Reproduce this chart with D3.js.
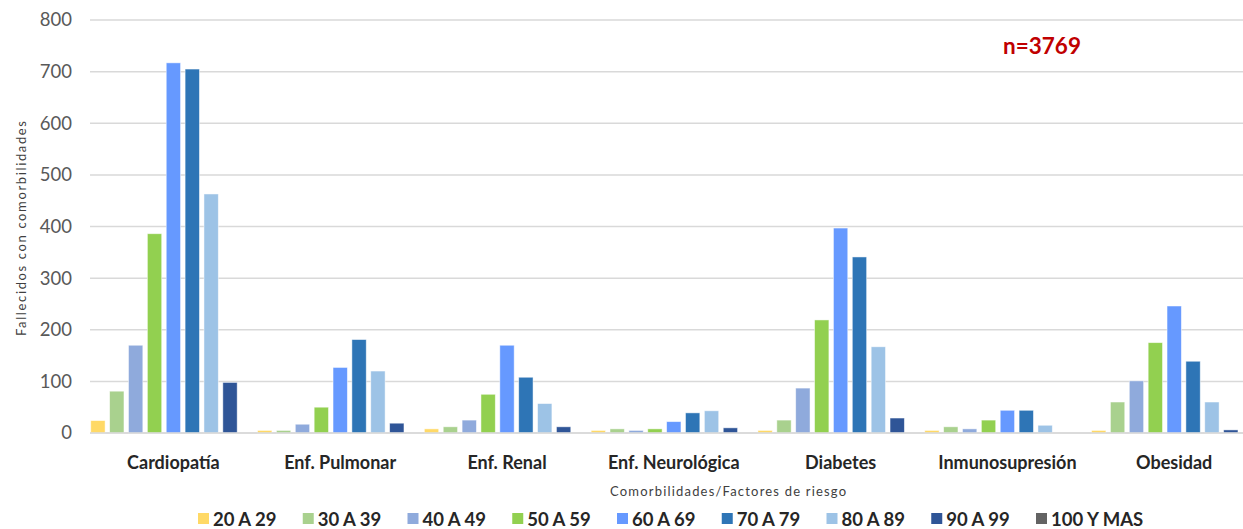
<!DOCTYPE html>
<html>
<head>
<meta charset="utf-8">
<script src="https://cdn.jsdelivr.net/npm/d3@7"></script>
<style>
    body { margin: 0; background: #fff; }
    svg { display: block; font-family: Lato, 'Open Sans', sans-serif; }
</style>
</head>
<body>
<svg id="chart"></svg>
<script>
const categories = ['Cardiopatía', 'Enf. Pulmonar', 'Enf. Renal', 'Enf. Neurológica', 'Diabetes', 'Inmunosupresión', 'Obesidad'];
const ageGroups = ['20 A 29', '30 A 39', '40 A 49', '50 A 59', '60 A 69', '70 A 79', '80 A 89', '90 A 99', '100 Y MAS'];
const groupColors = ['#FFD966', '#A9D18E', '#8FAADC', '#92D050', '#6699FF', '#2E75B6', '#9DC3E6', '#2F5597', '#636363'];

// one row per category, one value per age group
const values = [
    [24, 81, 170, 386, 717, 705, 463, 98, 0],
    [5, 5, 17, 50, 127, 181, 120, 19, 0],
    [8, 12, 25, 75, 170, 108, 57, 12, 0],
    [5, 8, 5, 8, 22, 39, 43, 10, 0],
    [5, 25, 87, 219, 397, 341, 167, 29, 0],
    [5, 12, 8, 25, 44, 44, 15, 0, 0],
    [5, 60, 101, 175, 246, 139, 60, 6, 0],
];
const yTicks = [0, 100, 200, 300, 400, 500, 600, 700, 800];

const width = 1243, height = 529;
const margin = { top: 20, left: 90, bottom: 96 };
const plotBottom = height - margin.bottom;

const svg = d3.select('#chart').attr('width', width).attr('height', height);

const x0 = d3.scaleBand().domain(categories).range([margin.left, margin.left + 7 * 166.8]).paddingInner(0).paddingOuter(0);
const x1 = d3.scaleBand().domain(ageGroups).range([0, x0.bandwidth()]).paddingInner(0.24).paddingOuter(0.04);
const y = d3.scaleLinear().domain([0, 800]).range([plotBottom, margin.top]);
const color = d3.scaleOrdinal().domain(ageGroups).range(groupColors);

// gridlines
svg.append('g')
    .selectAll('line')
    .data(yTicks)
    .join('line')
    .attr('x1', margin.left)
    .attr('x2', width)
    .attr('y1', d => y(d))
    .attr('y2', d => y(d))
    .attr('stroke', '#d9d9d9')
    .attr('stroke-width', 1.5);

// y axis labels
const yAxis = svg.append('g')
    .attr('transform', `translate(${margin.left - 16},0)`)
    .call(d3.axisLeft(y).tickValues(yTicks).tickSize(0).tickPadding(2));
yAxis.select('.domain').remove();
yAxis.selectAll('text')
    .attr('font-size', 18.5)
    .attr('font-family', 'Lato, sans-serif')
    .attr('fill', '#595959');

// bars
const groups = svg.append('g')
    .selectAll('g')
    .data(categories)
    .join('g')
    .attr('transform', d => `translate(${x0(d)},0)`);

groups.selectAll('rect')
    .data((d, i) => ageGroups.map((a, j) => ({ age: a, value: values[i][j] })))
    .join('rect')
    .attr('x', d => x1(d.age))
    .attr('width', x1.bandwidth())
    .attr('y', d => y(d.value))
    .attr('height', d => plotBottom - y(d.value))
    .attr('fill', d => color(d.age))
    .attr('stroke', 'rgba(255,255,255,0.6)')
    .attr('stroke-width', 0.8);

// x axis line
svg.append('line')
    .attr('x1', margin.left)
    .attr('x2', width)
    .attr('y1', plotBottom)
    .attr('y2', plotBottom)
    .attr('stroke', '#d9d9d9')
    .attr('stroke-width', 1.5);

// category labels
const xAxis = svg.append('g')
    .attr('transform', `translate(0,${plotBottom})`)
    .call(d3.axisBottom(x0).tickSize(0).tickPadding(23));
xAxis.select('.domain').remove();
xAxis.selectAll('text')
    .attr('font-size', 18)
    .attr('font-weight', 'bold')
    .attr('font-family', 'Lato, sans-serif')
    .attr('fill', '#262626');

// axis titles
svg.append('text')
    .attr('x', 728)
    .attr('y', 496)
    .attr('text-anchor', 'middle')
    .attr('font-size', 13)
    .attr('fill', '#404040')
    .attr('textLength', 236)
    .text('Comorbilidades/Factores de riesgo');

svg.append('text')
    .attr('transform', `translate(26,${(margin.top + plotBottom) / 2 + 2}) rotate(-90)`)
    .attr('text-anchor', 'middle')
    .attr('font-size', 13)
    .attr('fill', '#404040')
    .attr('textLength', 215)
    .text('Fallecidos con comorbilidades');

// n annotation
svg.append('text')
    .attr('x', 1003)
    .attr('y', 54)
    .attr('font-size', 22.5)
    .attr('font-weight', 'bold')
    .attr('fill', '#C00000')
    .text('n=3769');

// legend
const legendX = d3.scalePoint().domain(ageGroups).range([198, 1036]);
const legend = svg.append('g')
    .selectAll('g')
    .data(ageGroups)
    .join('g')
    .attr('transform', d => `translate(${legendX(d)},519)`);

legend.append('rect')
    .attr('x', 0)
    .attr('y', -6)
    .attr('width', 11)
    .attr('height', 11)
    .attr('fill', d => color(d));

legend.append('text')
    .attr('x', 15)
    .attr('y', 6.5)
    .attr('font-size', 18.5)
    .attr('font-weight', 'bold')
    .attr('fill', '#262626')
    .text(d => d);
</script>
</body>
</html>
